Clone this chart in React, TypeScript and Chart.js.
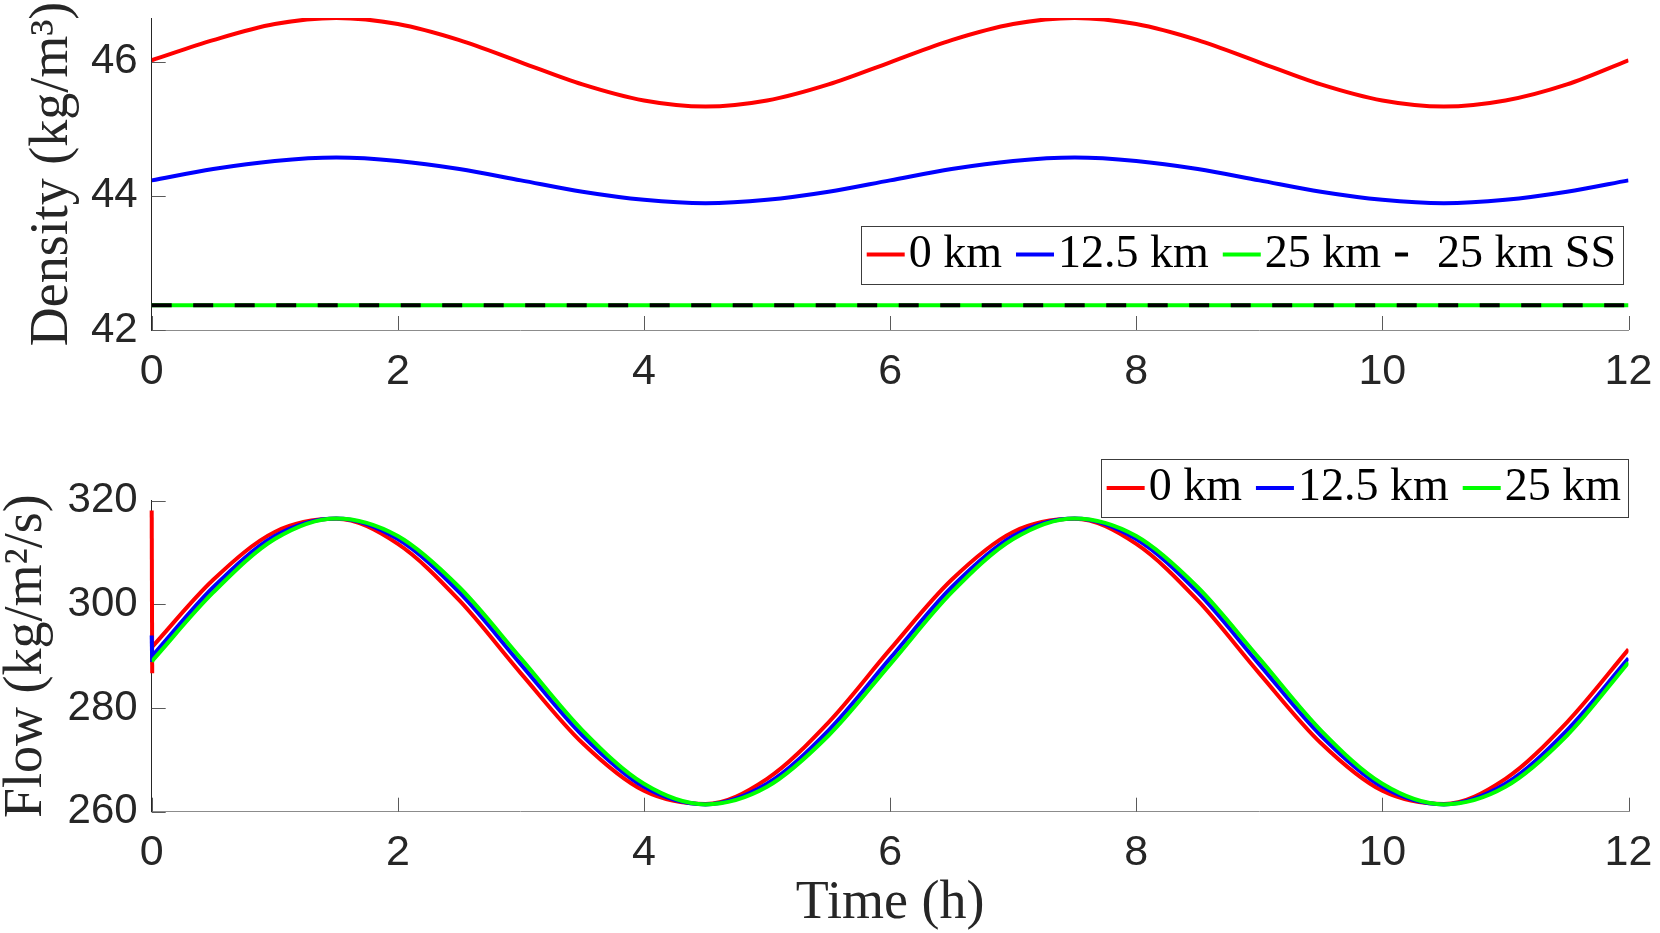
import { useEffect, useRef } from 'react';
import { Chart, registerables } from 'chart.js';

Chart.register(...registerables);

// time axis (h)
const hours = [0, 0.5, 1, 1.5, 2, 2.5, 3, 3.5, 4, 4.5, 5, 5.5, 6, 6.5, 7, 7.5, 8, 8.5, 9, 9.5, 10, 10.5, 11, 11.5, 12];
const spikeHours = [0, 0.004];
const ssHours = [0, 12];
const timeTicks = [0, 2, 4, 6, 8, 10, 12];

// density (kg/m3)
const density0km = [46.02, 46.32, 46.56, 46.65, 46.56, 46.32, 45.99, 45.66, 45.42, 45.33, 45.42, 45.66, 45.99, 46.32, 46.56, 46.65, 46.56, 46.32, 45.99, 45.66, 45.42, 45.33, 45.42, 45.66, 46.02];
const density12km = [44.23, 44.4, 44.52, 44.57, 44.52, 44.4, 44.23, 44.06, 43.94, 43.89, 43.94, 44.06, 44.23, 44.4, 44.52, 44.57, 44.52, 44.4, 44.23, 44.06, 43.94, 43.89, 43.94, 44.06, 44.23];
const density25km = [42.37, 42.37, 42.37, 42.37, 42.37, 42.37, 42.37, 42.37, 42.37, 42.37, 42.37, 42.37, 42.37, 42.37, 42.37, 42.37, 42.37, 42.37, 42.37, 42.37, 42.37, 42.37, 42.37, 42.37, 42.37];
const density25kmSS = [42.37, 42.37];
const densityTicks = [42, 44, 46];

// flow (kg/m2/s)
const flow0kmStart = [318.1, 286.7];
const flow12kmStart = [294.0, 288.9];
const flow0km = [291.7, 304.75, 313.97, 316.5, 311.66, 300.75, 286.69, 273.25, 264.03, 261.5, 266.34, 277.25, 291.31, 304.75, 313.97, 316.5, 311.66, 300.75, 286.69, 273.25, 264.03, 261.5, 266.34, 277.25, 291.31];
const flow12km = [289.9, 303.3, 313.19, 316.59, 312.61, 302.3, 288.42, 274.7, 264.81, 261.41, 265.39, 275.7, 289.58, 303.3, 313.19, 316.59, 312.61, 302.3, 288.42, 274.7, 264.81, 261.41, 265.39, 275.7, 289.58];
const flow25km = [289.0, 302.3, 312.61, 316.59, 313.19, 303.3, 289.58, 275.7, 265.39, 261.41, 264.81, 274.7, 288.42, 302.3, 312.61, 316.59, 313.19, 303.3, 289.58, 275.7, 265.39, 261.41, 264.81, 274.7, 288.8];
const flowTicks = [260, 280, 300, 320];

const SANS = '"Liberation Sans", Arial, Helvetica, sans-serif';
const SERIF = '"Liberation Serif", "Times New Roman", serif';
const INK = '#262626';

// canvases are a bit wider than the page so Chart.js label padding never eats the plot area
const CANVAS_W = 1700;
const AREA_RIGHT = 1628.5;

const pts = (xs: number[], ys: number[]) => xs.map((x, i) => ({ x, y: ys[i] }));

// MATLAB style ticks pointing into the plot area
const inwardTicks = {
  id: 'inwardTicks',
  beforeDatasetsDraw(chart: any) {
    const { ctx, chartArea, scales } = chart;
    const len = 14;
    ctx.save();
    ctx.strokeStyle = '#5a5a5a';
    ctx.lineWidth = 1;
    ctx.beginPath();
    scales.x.ticks.forEach((t: any) => {
      const px = Math.round(scales.x.getPixelForValue(t.value)) + 0.5;
      ctx.moveTo(px, chartArea.bottom);
      ctx.lineTo(px, chartArea.bottom - len);
    });
    scales.y.ticks.forEach((t: any) => {
      const py = Math.round(scales.y.getPixelForValue(t.value)) + 0.5;
      ctx.moveTo(chartArea.left, py);
      ctx.lineTo(chartArea.left + len, py);
    });
    ctx.stroke();
    ctx.restore();
  },
};

// horizontal boxed legend, right-aligned at a given spot
const boxLegend = {
  id: 'boxLegend',
  afterDraw(chart: any, _args: any, opts: any) {
    if (!opts || opts.right == null) return;
    const { ctx } = chart;
    ctx.save();
    ctx.font = `46px ${SERIF}`;
    const items = chart.data.datasets
      .filter((ds: any) => !ds.noLegend)
      .map((ds: any) => ({ label: ds.label, color: ds.borderColor, dashed: !!ds.borderDash }));
    const sample = 38, gapText = 4, gapItem = 14, padL = 6, padR = 7;
    const widths = items.map((it: any) => ctx.measureText(it.label).width);
    const total = padL + padR + items.length * (sample + gapText)
      + widths.reduce((a: number, b: number) => a + b, 0) + gapItem * (items.length - 1);
    const left = opts.right - total;
    const top = opts.top;
    const h = opts.height;
    ctx.fillStyle = '#ffffff';
    ctx.fillRect(left, top, total, h);
    ctx.strokeStyle = '#3c3c3c';
    ctx.lineWidth = 1;
    ctx.strokeRect(Math.round(left) + 0.5, Math.round(top) + 0.5, Math.round(total), Math.round(h));
    let x = left + padL;
    const cy = top + h / 2;
    items.forEach((it: any, i: number) => {
      ctx.beginPath();
      ctx.strokeStyle = it.color;
      ctx.lineWidth = 4;
      ctx.lineCap = 'butt';
      ctx.setLineDash(it.dashed ? [13, 30] : []);
      ctx.moveTo(x, cy);
      ctx.lineTo(x + sample, cy);
      ctx.stroke();
      ctx.setLineDash([]);
      x += sample + gapText;
      ctx.fillStyle = '#000000';
      ctx.textBaseline = 'middle';
      ctx.textAlign = 'left';
      ctx.fillText(it.label, x, cy);
      x += widths[i] + gapItem;
    });
    ctx.restore();
  },
};

interface PanelOpts {
  datasets: any[];
  yMin: number;
  yMax: number;
  yTicks: number[];
  yTitle: string;
  yTitlePad: number;
  xTitle?: string;
  areaTop: number;
  xHeight: number;
  legend: { right: number; top: number; height: number };
}

function buildConfig(p: PanelOpts): any {
  return {
    type: 'line',
    data: { datasets: p.datasets },
    options: {
      animation: false,
      responsive: false,
      layout: { padding: { top: p.areaTop, right: CANVAS_W - AREA_RIGHT, left: 0, bottom: 0 } },
      elements: {
        point: { radius: 0, hoverRadius: 0 },
        line: { borderCapStyle: 'butt', borderJoinStyle: 'round', cubicInterpolationMode: 'monotone', fill: false },
      },
      plugins: {
        legend: { display: false },
        tooltip: { enabled: false },
        boxLegend: p.legend,
      },
      events: [],
      scales: {
        x: {
          type: 'linear',
          min: 0,
          max: 12,
          afterBuildTicks: (s: any) => { s.ticks = timeTicks.map((value) => ({ value })); },
          afterFit: (s: any) => { s.height = p.xHeight; },
          grid: { display: true, drawOnChartArea: false, drawTicks: false },
          border: { display: true, color: '#8c8c8c', width: 1 },
          ticks: {
            autoSkip: false,
            maxRotation: 0,
            padding: 16,
            color: INK,
            font: { family: SANS, size: 43, lineHeight: 1.2 },
            callback: (v: number) => String(v),
          },
          title: p.xTitle
            ? { display: true, text: p.xTitle, color: INK, font: { family: SERIF, size: 54, lineHeight: 1 }, padding: { top: 0, bottom: 2 } }
            : { display: false },
        },
        y: {
          type: 'linear',
          min: p.yMin,
          max: p.yMax,
          afterBuildTicks: (s: any) => { s.ticks = p.yTicks.map((value) => ({ value })); },
          afterFit: (s: any) => { s.width = 151.7; },
          grid: { display: true, drawOnChartArea: false, drawTicks: false },
          border: { display: true, color: INK, width: 1 },
          ticks: {
            autoSkip: false,
            padding: 14,
            color: INK,
            font: { family: SANS, size: 42, lineHeight: 1.2 },
            callback: (v: number) => String(v),
          },
          title: { display: true, text: p.yTitle, color: INK, font: { family: SERIF, size: 54, lineHeight: 1 }, padding: { top: p.yTitlePad, bottom: 0 } },
        },
      },
    },
    plugins: [inwardTicks, boxLegend],
  };
}

function Panel({ config, height, top }: { config: any; height: number; top: number }) {
  const canvasRef = useRef<HTMLCanvasElement>(null);

  useEffect(() => {
    if (!canvasRef.current) return;
    const chart = new Chart(canvasRef.current, config);
    return () => {
      chart.destroy();
    };
  }, [config]);

  return (
    <canvas
      ref={canvasRef}
      width={CANVAS_W}
      height={height}
      style={{ position: 'absolute', left: 0, top, width: CANVAS_W, height }}
    />
  );
}

// top panel canvas starts 62px above the page
const densityConfig = buildConfig({
  datasets: [
    { label: '0 km', data: pts(hours, density0km), borderColor: '#ff0000', borderWidth: 4, order: 3 },
    { label: '12.5 km', data: pts(hours, density12km), borderColor: '#0000ff', borderWidth: 4, order: 2 },
    { label: '25 km', data: pts(hours, density25km), borderColor: '#00ff00', borderWidth: 4, order: 1 },
    { label: '25 km SS', data: pts(ssHours, density25kmSS), borderColor: '#000000', borderWidth: 4, borderDash: [20, 21.5], order: 0 },
  ],
  yMin: 42,
  yMax: 46.65,
  yTicks: densityTicks,
  yTitle: 'Density (kg/m³)',
  yTitlePad: 26,
  areaTop: 80,
  xHeight: 90,
  legend: { right: 1623, top: 287.5, height: 58 },
});

const flowConfig = buildConfig({
  datasets: [
    { label: '0 km', data: pts(hours, flow0km), borderColor: '#ff0000', borderWidth: 4, order: 4 },
    { label: '12.5 km', data: pts(hours, flow12km), borderColor: '#0000ff', borderWidth: 4, order: 2 },
    { label: '25 km', data: pts(hours, flow25km), borderColor: '#00ff00', borderWidth: 4, order: 0 },
    // start-up transients at t = 0
    { label: '0 km start', noLegend: true, data: pts(spikeHours, flow0kmStart), borderColor: '#ff0000', borderWidth: 4, tension: 0, cubicInterpolationMode: 'default', clip: false, order: 3 },
    { label: '12.5 km start', noLegend: true, data: pts(spikeHours, flow12kmStart), borderColor: '#0000ff', borderWidth: 4, tension: 0, cubicInterpolationMode: 'default', clip: false, order: 1 },
  ],
  yMin: 260,
  yMax: 320,
  yTicks: flowTicks,
  yTitle: 'Flow (kg/m²/s)',
  yTitlePad: 0,
  xTitle: 'Time (h)',
  areaTop: 80.7,
  xHeight: 121.3,
  legend: { right: 1628, top: 39, height: 58 },
});

export default function App() {
  useEffect(() => {
    document.body.style.margin = '0';
    document.body.style.background = '#ffffff';
  }, []);

  return (
    <div style={{ position: 'relative', width: 1660, height: 933, background: '#ffffff', overflow: 'hidden' }}>
      <Panel config={densityConfig} height={482} top={-62} />
      <Panel config={flowConfig} height={513} top={420} />
    </div>
  );
}
